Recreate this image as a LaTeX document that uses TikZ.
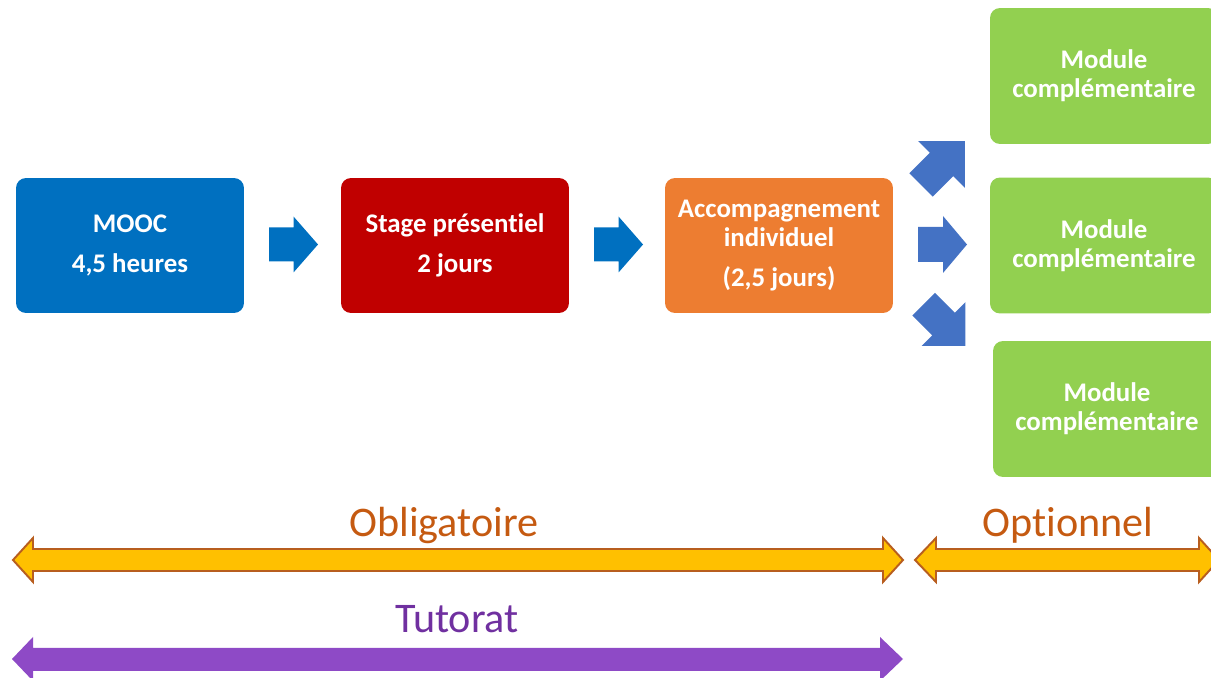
\documentclass[tikz,border=0pt]{standalone}
\usepackage{fontspec}
\setmainfont{Carlito}[Ligatures=NoCommon]
\definecolor{moocblue}{HTML}{0070C0}
\definecolor{stagered}{HTML}{C00000}
\definecolor{accorange}{HTML}{ED7D31}
\definecolor{modgreen}{HTML}{92D050}
\definecolor{arrowblue}{HTML}{4472C4}
\definecolor{oblyellow}{HTML}{FFC000}
\definecolor{oblbrown}{HTML}{B85E1F}
\definecolor{labelorange}{HTML}{C55A11}
\definecolor{tutpurple}{HTML}{8E4AC6}
\definecolor{tuttext}{HTML}{7030A0}
\tikzset{
  box/.style={rounded corners=0.2cm, minimum width=4.56cm, minimum height=2.7cm,
    text=white, font=\bfseries\fontsize{15.3}{16.6}\selectfont, align=center, inner sep=0pt},
  modbox/.style={box, fill=modgreen, minimum height=2.72cm},
  biglabel/.style={font=\fontsize{24}{28}\selectfont, anchor=base},
  blockarrow/.pic={\fill (-24.5,-17) -- (0,-17) -- (0,-28) -- (24.5,0) -- (0,28) -- (0,17) -- (-24.5,17) -- cycle;},
  yellowarrow/.style={fill=oblyellow, draw=oblbrown, line width=1.1pt, line join=miter},
}
\begin{document}
\begin{tikzpicture}[x=0.02cm, y=-0.02cm]
\useasboundingbox (0,0) rectangle (1211,678);
% main boxes
\node[box, fill=moocblue] (mooc) at (130,245.5) {MOOC\\[6.5pt]4,5 heures};
\node[box, fill=stagered] (stage) at (455,245.5) {Stage présentiel\\[6.5pt]2 jours};
\node[box, fill=accorange] (acc) at (779,245.5) {Accompagnement\\individuel\\[6.5pt](2,5 jours)};
% optional modules
\node[modbox] (m1) at (1104,76) {Module\\complémentaire};
\node[modbox] (m2) at (1104,245.5) {Module\\complémentaire};
\node[modbox] (m3) at (1107,409) {Module\\complémentaire};
% arrows between boxes
\pic[fill=moocblue] at (293.5,244.5) {blockarrow};
\pic[fill=moocblue] at (618.5,244.5) {blockarrow};
% fan-out arrows
\fill[arrowblue] (918,227) -- (943,227) -- (943,216) -- (967,244.5) -- (943,273) -- (943,262) -- (918,262) -- cycle;
\begin{scope}[shift={(941.5,164.5)}, rotate=45]
  \fill[arrowblue] (-29,-16.5) -- (0,-16.5) -- (0,-33) -- (33,0) -- (0,33) -- (0,16.5) -- (-29,16.5) -- cycle;
\end{scope}
\begin{scope}[shift={(943.5,324)}, rotate=-45]
  \fill[arrowblue] (-28,-16) -- (0,-16) -- (0,-31) -- (31,0) -- (0,31) -- (0,16) -- (-28,16) -- cycle;
\end{scope}
% bottom double arrows
\draw[yellowarrow] (13,560) -- (33,538) -- (33,549) -- (883,549) -- (883,538) -- (903,560)
  -- (883,582) -- (883,571) -- (33,571) -- (33,582) -- cycle;
\draw[yellowarrow] (915,560) -- (936,538) -- (936,549) -- (1199,549) -- (1199,538) -- (1219,560)
  -- (1199,582) -- (1199,571) -- (936,571) -- (936,582) -- cycle;
\fill[tutpurple] (12,659) -- (33,637) -- (33,648) -- (880,648) -- (880,637) -- (903,659)
  -- (880,681) -- (880,671) -- (33,671) -- (33,681) -- cycle;
% labels
\node[biglabel, text=labelorange] (obl) at (444,537) {Obligatoire};
\node[biglabel, text=labelorange] (opt) at (1068,537) {Optionnel};
\node[biglabel, text=tuttext] (tut) at (457,633) {Tutorat};
\end{tikzpicture}
\end{document}
